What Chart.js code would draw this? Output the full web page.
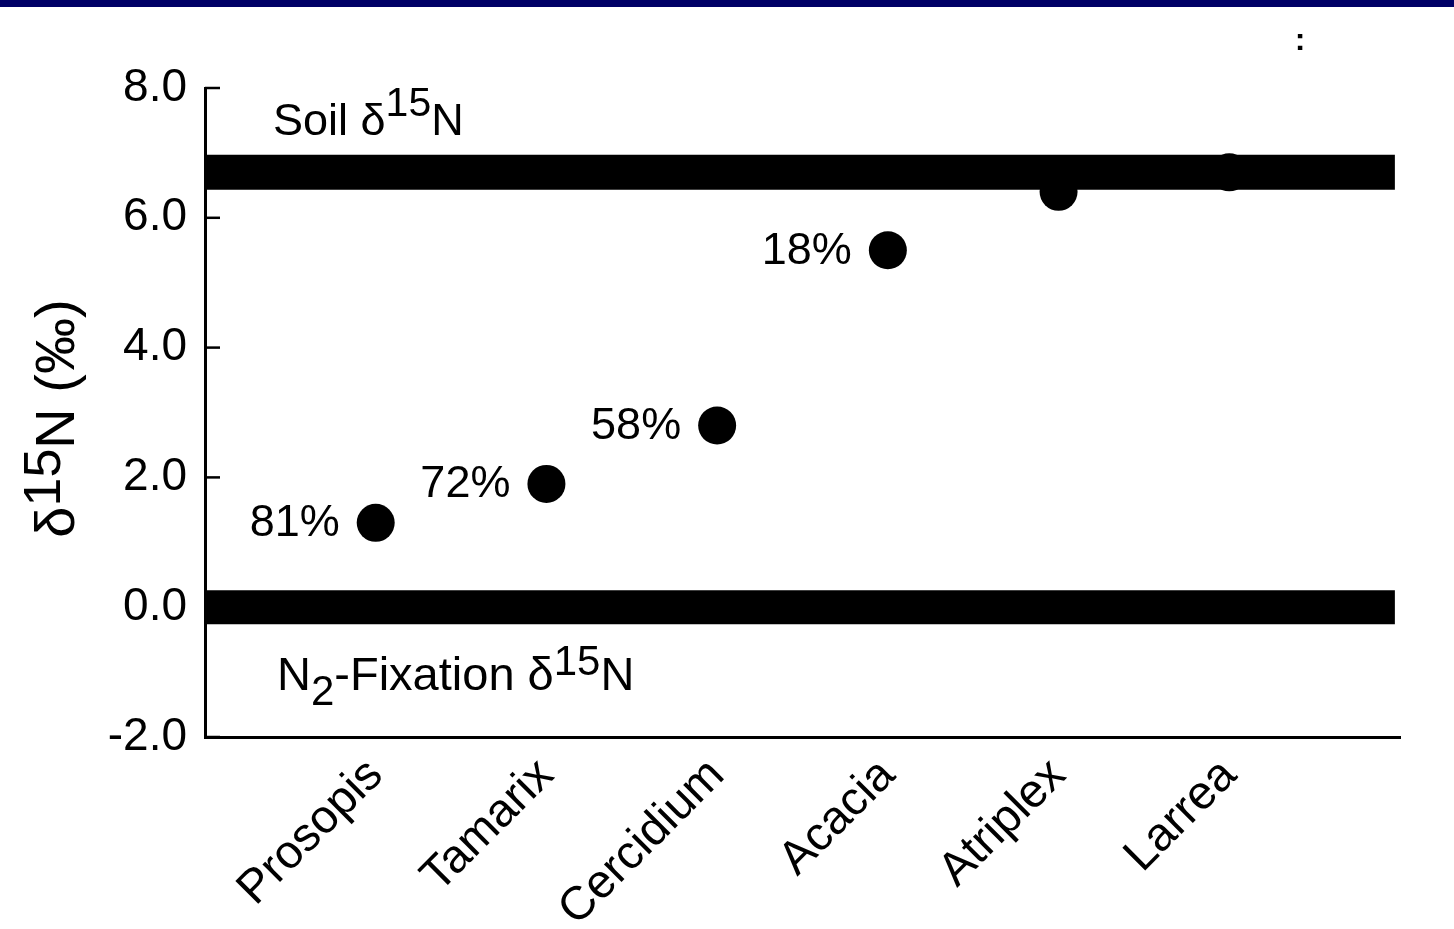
<!DOCTYPE html>
<html>
<head>
<meta charset="utf-8">
<script src="https://cdn.jsdelivr.net/npm/chart.js@4/dist/chart.umd.min.js"></script>
<style>
  html, body { margin: 0; padding: 0; background: #fff; }
  #wrap { position: relative; width: 1454px; height: 929px; }
</style>
</head>
<body>
<div id="wrap"><canvas id="c" width="1454" height="929"></canvas></div>
<script>
// Plant species and their leaf δ15N values (‰)
const species = ['Prosopis', 'Tamarix', 'Cercidium', 'Acacia', 'Atriplex', 'Larrea'];
const delta15N = [1.3, 1.9, 2.8, 5.5, 6.4, 6.7];
// Share of nitrogen derived from fixation (%), where reported
const fixedPercent = [81, 72, 58, 18, null, null];
// Reference δ15N levels for soil nitrogen and N2 fixation
const soilDelta = 6.7;
const fixationDelta = 0.0;
// Value-axis ticks
const yTicks = [-2, 0, 2, 4, 6, 8];

const FONT = '"Liberation Sans", Arial, Helvetica, sans-serif';

function drawRich(ctx, parts, x, y, align) {
  let total = 0;
  parts.forEach(p => { ctx.font = p.size + 'px ' + FONT; total += ctx.measureText(p.t).width; });
  let cx = align === 'center' ? x - total / 2 : x;
  ctx.textAlign = 'left';
  ctx.textBaseline = 'alphabetic';
  parts.forEach(p => {
    ctx.font = p.size + 'px ' + FONT;
    ctx.fillText(p.t, cx, y + (p.dy || 0));
    cx += ctx.measureText(p.t).width;
  });
}

const figureText = {
  id: 'figureText',
  beforeDraw(chart) {
    const ctx = chart.ctx;
    ctx.save();
    ctx.fillStyle = '#ffffff';
    ctx.fillRect(0, 0, chart.width, chart.height);
    ctx.fillStyle = '#000066';
    ctx.fillRect(0, 0, chart.width, 7);
    ctx.restore();
  },
  afterDraw(chart) {
    const ctx = chart.ctx;
    const ys = chart.scales.y;
    const area = chart.chartArea;
    ctx.save();
    ctx.fillStyle = '#000';
    ctx.strokeStyle = '#000';

    // inward tick marks on the value axis
    ctx.lineWidth = 2.5;
    yTicks.forEach(v => {
      const py = ys.getPixelForValue(v);
      ctx.beginPath();
      ctx.moveTo(area.left, py);
      ctx.lineTo(area.left + 15, py);
      ctx.stroke();
    });

    // percentage labels beside the points
    const meta = chart.getDatasetMeta(2);
    ctx.font = '45px ' + FONT;
    ctx.textAlign = 'right';
    ctx.textBaseline = 'middle';
    meta.data.forEach((pt, i) => {
      if (fixedPercent[i] == null) return;
      ctx.fillText(fixedPercent[i] + '%', pt.x - 36, pt.y + 1);
    });

    // band captions
    drawRich(ctx, [
      { t: 'Soil δ', size: 45 },
      { t: '15', size: 41, dy: -19 },
      { t: 'N', size: 45 }
    ], area.left + 68, ys.getPixelForValue(7.27), 'left');

    drawRich(ctx, [
      { t: 'N', size: 47 },
      { t: '2', size: 42, dy: 15 },
      { t: '-Fixation δ', size: 47 },
      { t: '15', size: 42, dy: -15 },
      { t: 'N', size: 47 }
    ], area.left + 72, ys.getPixelForValue(-1.28), 'left');

    // value-axis title
    ctx.save();
    ctx.translate(74, (area.top + area.bottom) / 2 + 6);
    ctx.rotate(-Math.PI / 2);
    drawRich(ctx, [
      { t: 'δ', size: 56 },
      { t: '15', size: 52, dy: -14 },
      { t: 'N (‰)', size: 56 }
    ], 0, 0, 'center');
    ctx.restore();

    // small mark at top right
    ctx.font = 'bold 32px ' + FONT;
    ctx.textAlign = 'center';
    ctx.textBaseline = 'middle';
    ctx.fillText(':', 1300, 41);

    ctx.restore();
  }
};

const bandSpan = [0, 6.97];

new Chart(document.getElementById('c'), {
  type: 'scatter',
  data: {
    datasets: [
      {
        type: 'line',
        data: bandSpan.map(x => ({ x, y: soilDelta })),
        borderColor: '#000',
        borderWidth: 35,
        borderCapStyle: 'butt',
        pointRadius: 0,
        fill: false
      },
      {
        type: 'line',
        data: bandSpan.map(x => ({ x, y: fixationDelta })),
        borderColor: '#000',
        borderWidth: 34,
        borderCapStyle: 'butt',
        pointRadius: 0,
        fill: false
      },
      {
        data: species.map((s, i) => ({ x: i + 1, y: delta15N[i] })),
        backgroundColor: '#000',
        borderWidth: 0,
        pointRadius: 19,
        pointHoverRadius: 19
      }
    ]
  },
  plugins: [figureText],
  options: {
    responsive: false,
    animation: false,
    events: [],
    layout: { padding: { top: 88, right: 54, left: 0, bottom: 0 } },
    plugins: { legend: { display: false }, tooltip: { enabled: false } },
    scales: {
      x: {
        type: 'linear',
        min: 0,
        max: 7,
        afterBuildTicks: s => { s.ticks = species.map((_, i) => ({ value: i + 1 })); },
        afterFit: s => { s.height = 192; },
        grid: { display: false },
        border: { display: true, color: '#000', width: 3 },
        ticks: {
          autoSkip: false,
          minRotation: 45,
          maxRotation: 45,
          padding: 3,
          color: '#000',
          font: { family: FONT, size: 47 },
          callback: v => species[Math.round(v) - 1] || ''
        }
      },
      y: {
        type: 'linear',
        min: -2,
        max: 8,
        afterBuildTicks: s => { s.ticks = yTicks.map(v => ({ value: v })); },
        afterFit: s => { s.width = 205; },
        grid: { display: false },
        border: { display: true, color: '#000', width: 3 },
        ticks: {
          padding: 10,
          color: '#000',
          font: { family: FONT, size: 46 },
          callback: v => Number(v).toFixed(1)
        }
      }
    }
  }
});
</script>
</body>
</html>
